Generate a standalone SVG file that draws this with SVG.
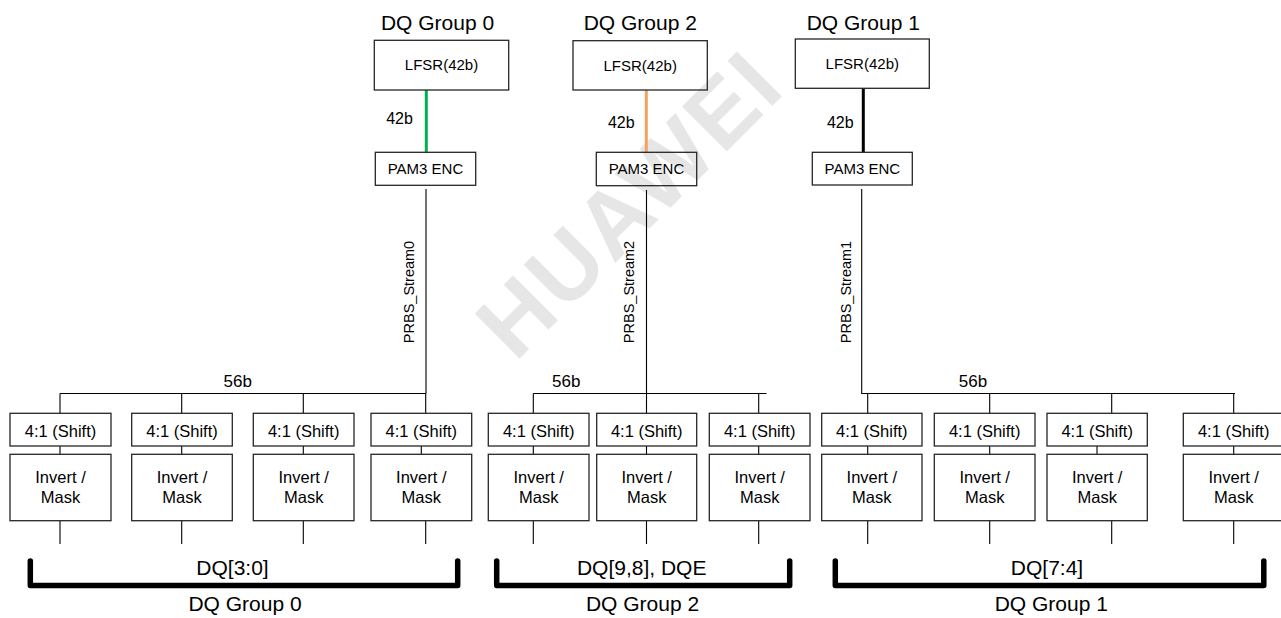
<svg xmlns="http://www.w3.org/2000/svg" width="1281" height="618" viewBox="0 0 1281 618">
<style>
text{font-family:"Liberation Sans",Arial,sans-serif;fill:#000;}
.box{fill:none;stroke:#262626;stroke-width:1.3;}
.ln{stroke:#000;stroke-width:1.1;fill:none;}
.brk{stroke:#000;stroke-width:5.5;fill:none;stroke-linecap:round;stroke-linejoin:round;}
.t15{font-size:15px;text-anchor:middle;}
.t16{font-size:16.5px;text-anchor:middle;}
.ttl{font-size:21px;text-anchor:middle;}
.lbl{font-size:16px;text-anchor:middle;}
.prbs{font-size:14.5px;text-anchor:middle;}
.wm{font-size:92px;font-weight:bold;fill:#e6e6e6;letter-spacing:3px;}
</style>
<rect width="1281" height="618" fill="#fff"/>
<text class="wm" transform="translate(515.3,362.7) rotate(-45)">HUAWEI</text>

<g id="connectors">
  <line x1="426.3" y1="90" x2="426.3" y2="152.3" stroke="#00b050" stroke-width="3"/>
  <line x1="646.3" y1="90" x2="646.3" y2="152.3" stroke="#f6a15c" stroke-width="3"/>
  <line x1="863.3" y1="88.3" x2="863.3" y2="152.3" stroke="#000" stroke-width="3"/>
  <text class="lbl" x="399.5" y="124">42b</text>
  <text class="lbl" x="621.3" y="128">42b</text>
  <text class="lbl" x="840.3" y="127.7">42b</text>

  <path class="ln" d="M426,189 V393.5 M60,393.5 H426 M60,393.5 V413.3 M181.7,393.5 V413.3 M303.3,393.5 V413.3 M425.7,393.5 V413.3"/>
  <path class="ln" d="M646.5,190 V413.3 M533.3,393.5 H766.5 M533.3,393.5 V413.3 M758.7,393.5 V413.3"/>
  <path class="ln" d="M861.7,189 V393.5 H1235 M867.7,393.5 V413.3 M989.7,393.5 V413.3 M1111.7,393.5 V413.3 M1233.7,393.5 V413.3"/>

  <path class="ln" d="M60,446 V454.3 M60,520.7 V544 M181.7,446 V454.3 M181.7,520.7 V544 M303.3,446 V454.3 M303.3,520.7 V544 M421.3,446 V454.3 M425.7,520.7 V544"/>
  <path class="ln" d="M533.3,446 V454.3 M533.3,520.7 V544 M646.5,446 V454.3 M646.5,520.7 V544 M758.7,446 V454.3 M758.7,520.7 V544"/>
  <path class="ln" d="M867.7,446 V454.3 M867.7,520.7 V544 M989.7,446 V454.3 M989.7,520.7 V544 M1097,446 V454.3 M1111.7,520.7 V544 M1233.7,446 V454.3 M1233.7,520.7 V544"/>

  <text class="prbs" transform="translate(414,292) rotate(-90)">PRBS_Stream0</text>
  <text class="prbs" transform="translate(634,292) rotate(-90)">PRBS_Stream2</text>
  <text class="prbs" transform="translate(850.5,292) rotate(-90)">PRBS_Stream1</text>

  <text class="lbl" x="237.7" y="387" style="font-size:17px">56b</text>
  <text class="lbl" x="566.3" y="387" style="font-size:17px">56b</text>
  <text class="lbl" x="973" y="387" style="font-size:17px">56b</text>
</g>

<g id="group0-top">
  <text class="ttl" x="437.5" y="30">DQ Group 0</text>
  <rect class="box" x="374.3" y="40.3" width="134.4" height="49.7"/>
  <text class="t15" x="441.5" y="70">LFSR(42b)</text>
  <rect class="box" x="375.3" y="152.3" width="100.4" height="33"/>
  <text class="t15" x="425.5" y="174">PAM3 ENC</text>
</g>
<g id="group2-top">
  <text class="ttl" x="640.3" y="30">DQ Group 2</text>
  <rect class="box" x="573" y="40.7" width="134.3" height="49.3"/>
  <text class="t15" x="640.2" y="70.5">LFSR(42b)</text>
  <rect class="box" x="596.3" y="152.3" width="100.4" height="33.4"/>
  <text class="t15" x="646.5" y="174">PAM3 ENC</text>
</g>
<g id="group1-top">
  <text class="ttl" x="863.3" y="30">DQ Group 1</text>
  <rect class="box" x="795.3" y="39" width="134" height="49.3"/>
  <text class="t15" x="862.3" y="68.5">LFSR(42b)</text>
  <rect class="box" x="812.3" y="152.3" width="100" height="32.7"/>
  <text class="t15" x="862.3" y="174">PAM3 ENC</text>
</g>

<g id="g0-lane0"><rect class="box" x="10" y="413.3" width="101" height="32.7"/><text class="t16" x="60.5" y="436.5">4:1 (Shift)</text><rect class="box" x="10" y="454.3" width="101" height="66.4"/><text class="t16" x="60.5" y="483.3">Invert /</text><text class="t16" x="60.5" y="503.3">Mask</text></g>
<g id="g0-lane1"><rect class="box" x="131.7" y="413.3" width="100.6" height="32.7"/><text class="t16" x="182" y="436.5">4:1 (Shift)</text><rect class="box" x="131.7" y="454.3" width="100.6" height="66.4"/><text class="t16" x="182" y="483.3">Invert /</text><text class="t16" x="182" y="503.3">Mask</text></g>
<g id="g0-lane2"><rect class="box" x="253.3" y="413.3" width="100.7" height="32.7"/><text class="t16" x="303.7" y="436.5">4:1 (Shift)</text><rect class="box" x="253.3" y="454.3" width="100.7" height="66.4"/><text class="t16" x="303.7" y="483.3">Invert /</text><text class="t16" x="303.7" y="503.3">Mask</text></g>
<g id="g0-lane3"><rect class="box" x="371" y="413.3" width="100.7" height="32.7"/><text class="t16" x="421.3" y="436.5">4:1 (Shift)</text><rect class="box" x="371" y="454.3" width="100.7" height="66.4"/><text class="t16" x="421.3" y="483.3">Invert /</text><text class="t16" x="421.3" y="503.3">Mask</text></g>

<g id="g2-lane0"><rect class="box" x="488.3" y="413.3" width="100.7" height="32.7"/><text class="t16" x="538.7" y="436.5">4:1 (Shift)</text><rect class="box" x="488.3" y="454.3" width="100.7" height="66.4"/><text class="t16" x="538.7" y="483.3">Invert /</text><text class="t16" x="538.7" y="503.3">Mask</text></g>
<g id="g2-lane1"><rect class="box" x="596.7" y="413.3" width="100" height="32.7"/><text class="t16" x="646.7" y="436.5">4:1 (Shift)</text><rect class="box" x="596.7" y="454.3" width="100" height="66.4"/><text class="t16" x="646.7" y="483.3">Invert /</text><text class="t16" x="646.7" y="503.3">Mask</text></g>
<g id="g2-lane2"><rect class="box" x="709.3" y="413.3" width="100.7" height="32.7"/><text class="t16" x="759.7" y="436.5">4:1 (Shift)</text><rect class="box" x="709.3" y="454.3" width="100.7" height="66.4"/><text class="t16" x="759.7" y="483.3">Invert /</text><text class="t16" x="759.7" y="503.3">Mask</text></g>

<g id="g1-lane0"><rect class="box" x="821.7" y="413.3" width="100.3" height="32.7"/><text class="t16" x="871.8" y="436.5">4:1 (Shift)</text><rect class="box" x="821.7" y="454.3" width="100.3" height="66.4"/><text class="t16" x="871.8" y="483.3">Invert /</text><text class="t16" x="871.8" y="503.3">Mask</text></g>
<g id="g1-lane1"><rect class="box" x="934.3" y="413.3" width="100.7" height="32.7"/><text class="t16" x="984.7" y="436.5">4:1 (Shift)</text><rect class="box" x="934.3" y="454.3" width="100.7" height="66.4"/><text class="t16" x="984.7" y="483.3">Invert /</text><text class="t16" x="984.7" y="503.3">Mask</text></g>
<g id="g1-lane2"><rect class="box" x="1047" y="413.3" width="100.3" height="32.7"/><text class="t16" x="1097.2" y="436.5">4:1 (Shift)</text><rect class="box" x="1047" y="454.3" width="100.3" height="66.4"/><text class="t16" x="1097.2" y="483.3">Invert /</text><text class="t16" x="1097.2" y="503.3">Mask</text></g>
<g id="g1-lane3"><rect class="box" x="1183.3" y="413.3" width="101" height="32.7"/><text class="t16" x="1233.7" y="436.5">4:1 (Shift)</text><rect class="box" x="1183.3" y="454.3" width="101" height="66.4"/><text class="t16" x="1233.7" y="483.3">Invert /</text><text class="t16" x="1233.7" y="503.3">Mask</text></g>

<g id="bracket0"><path class="brk" d="M30.3,561 V585.5 H457.7 V561"/><text class="ttl" x="232.5" y="575">DQ[3:0]</text><text class="ttl" x="245" y="611">DQ Group 0</text></g>
<g id="bracket2"><path class="brk" d="M496.7,561 V585.5 H789.7 V561"/><text class="ttl" x="641.7" y="575">DQ[9,8], DQE</text><text class="ttl" x="642.5" y="611">DQ Group 2</text></g>
<g id="bracket1"><path class="brk" d="M835.3,561 V585.5 H1263.8 V561"/><text class="ttl" x="1047" y="575">DQ[7:4]</text><text class="ttl" x="1051.3" y="611">DQ Group 1</text></g>
</svg>
